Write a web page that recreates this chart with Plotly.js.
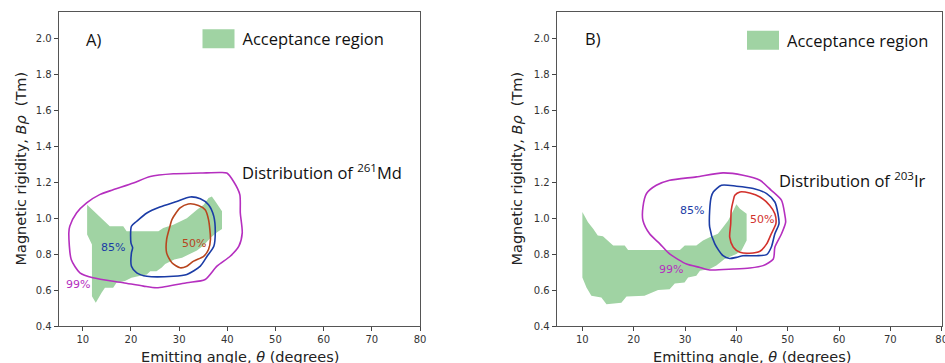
<!DOCTYPE html>
<html>
<head>
<meta charset="utf-8">
<script src="https://cdn.plot.ly/plotly-3.0.1.min.js"></script>
<style>html,body{margin:0;padding:0;background:#fff;}#chart{width:945px;height:363px;}</style>
</head>
<body>
<div id="chart"></div>
<script>
// ---------- Panel A data (261Md) ----------
const accA_x = [10.9,15.6,18.4,19.1,25.7,26.7,28.8,31.6,33.7,35.1,36.1,36.8,37.5,38.5,38.9,38.9,37.8,36.5,35.1,33.7,32.3,30.6,29.0,27.1,26.4,25.3,24.0,23.3,21.5,20.1,18.75,17.0,16.3,14.6,13.9,12.7,11.9,11.9,10.9];
const accA_y = [1.075,0.955,0.955,0.927,0.927,0.946,0.964,1.0,1.047,1.075,1.112,1.121,1.094,1.057,1.038,0.94,0.92,0.89,0.85,0.82,0.80,0.78,0.77,0.745,0.725,0.705,0.705,0.687,0.677,0.668,0.65,0.641,0.613,0.613,0.585,0.53,0.566,0.853,0.909];

const c99A_x = [39.9,41.3,42.6,42.7,43.1,42.4,40.6,37.85,35.4,31.6,25.35,22.6,18.4,12.1,9.4,7.6,7.1,7.3,8.7,10.8,13.5,16.3,20.5,24.0,28.8,34.4,38.5,39.9];
const c99A_y = [1.251,1.204,1.131,1.029,0.918,0.844,0.788,0.733,0.659,0.641,0.613,0.622,0.641,0.668,0.696,0.77,0.918,0.955,1.029,1.085,1.131,1.158,1.196,1.232,1.247,1.251,1.254,1.251];

const c85A_x = [20.1,21.2,23.3,26.0,29.5,32.3,34.4,36.1,37.2,37.5,37.2,35.8,34.4,31.6,28.8,23.3,21.2,20.1,20.1,20.35,20.0,20.1];
const c85A_y = [0.955,0.983,1.029,1.062,1.093,1.118,1.108,1.075,1.010,0.918,0.844,0.788,0.733,0.687,0.677,0.677,0.696,0.733,0.807,0.835,0.862,0.955];

const c50A_x = [28.5,30.2,31.9,34.0,35.4,36.1,36.5,36.1,35.1,33.0,31.6,30.2,28.5,27.4,27.4,28.1,28.5];
const c50A_y = [0.992,1.057,1.079,1.071,1.047,0.992,0.881,0.826,0.788,0.761,0.733,0.724,0.752,0.807,0.881,0.955,0.992];

// ---------- Panel B data (203Ir) ----------
const accB_x = [10.0,11.1,12.1,13.0,14.0,16.0,18.25,18.9,29.0,29.95,32.2,33.5,34.8,36.4,37.4,38.4,39.4,40.0,40.7,42.0,42.0,41.0,40.0,37.7,36.1,34.8,32.9,32.2,30.6,29.9,28.0,27.0,24.75,22.1,18.6,17.6,14.7,13.7,11.75,10.8,10.0];
const accB_y = [1.034,0.978,0.941,0.903,0.9,0.848,0.848,0.823,0.823,0.848,0.848,0.876,0.894,0.913,0.95,0.987,1.043,1.077,1.053,1.025,0.876,0.82,0.80,0.773,0.736,0.717,0.708,0.68,0.67,0.642,0.637,0.605,0.60,0.568,0.564,0.53,0.521,0.558,0.568,0.614,0.67];

const c99B_x = [21.8,22.5,24.4,27.0,32.2,37.4,41.3,44.6,46.8,48.8,49.4,49.6,48.8,47.5,47.2,45.2,42.6,39.4,34.8,32.9,30.3,27.0,25.1,23.1,21.8,21.8];
const c99B_y = [1.062,1.137,1.183,1.211,1.23,1.252,1.239,1.211,1.155,1.099,1.025,0.978,0.913,0.838,0.773,0.736,0.723,0.717,0.712,0.726,0.745,0.801,0.857,0.913,0.987,1.062];

const c85B_x = [35.5,37.1,40.0,43.3,45.9,47.5,48.1,48.3,47.5,46.8,45.9,43.9,41.3,40.0,38.7,37.4,35.8,34.8,34.8,35.1,35.5];
const c85B_y = [1.146,1.183,1.178,1.165,1.137,1.09,1.025,0.969,0.913,0.838,0.797,0.791,0.791,0.782,0.776,0.791,0.857,0.95,1.043,1.118,1.146];

const c50B_x = [39.7,40.7,42.6,44.6,46.5,47.5,47.7,46.8,45.9,44.6,42.6,40.7,39.4,38.7,38.9,39.0,39.4,39.7];
const c50B_y = [1.127,1.146,1.14,1.118,1.071,1.025,0.969,0.913,0.857,0.816,0.805,0.81,0.838,0.894,0.969,1.043,1.099,1.127];

// ---------- ticks & labels ----------
const xTicks = [10,20,30,40,50,60,70,80];
const yTicks = [0.4,0.6,0.8,1.0,1.2,1.4,1.6,1.8,2.0];
const yTickText = ['0.4','0.6','0.8','1.0','1.2','1.4','1.6','1.8','2.0'];
const contourLabels = ['99%','85%','50%'];
const labelA_x = [9.0,16.3,33.0], labelA_y = [0.631,0.835,0.857];
const labelB_x = [27.2,31.4,44.9], labelB_y = [0.712,1.043,0.99];
const panelNames = ['A)','B)'];
const nuclides = ['Distribution of <sup>261</sup>Md','Distribution of <sup>203</sup>Ir'];
const legendLabel = 'Acceptance region';

const GREEN = 'rgb(160,211,163)';
const MAG = '#b52fbf', BLUE = '#1b3ca6', REDA = '#b8451e', REDB = '#d2312c';

function contour(x,y,color,xa,ya){
  return {x:x,y:y,xaxis:xa,yaxis:ya,mode:'lines',line:{color:color,width:1.6,shape:'spline',smoothing:0.7},showlegend:false,hoverinfo:'skip'};
}
function area(x,y,xa,ya,leg){
  return {x:x,y:y,xaxis:xa,yaxis:ya,mode:'lines',fill:'toself',fillcolor:GREEN,line:{width:0,color:GREEN},name:legendLabel,showlegend:true,legend:leg,hoverinfo:'skip'};
}

const traces = [
  area(accA_x,accA_y,'x','y','legend'),
  contour(c99A_x,c99A_y,MAG,'x','y'),
  contour(c85A_x,c85A_y,BLUE,'x','y'),
  contour(c50A_x,c50A_y,REDA,'x','y'),
  area(accB_x,accB_y,'x2','y2','legend2'),
  contour(c99B_x,c99B_y,MAG,'x2','y2'),
  contour(c85B_x,c85B_y,BLUE,'x2','y2'),
  contour(c50B_x,c50B_y,REDB,'x2','y2')
];

const W=945,H=363;
const axisCommon = {showline:true,mirror:true,linecolor:'#555',linewidth:1,ticks:'outside',ticklen:4,tickcolor:'#444',
  showgrid:false,zeroline:false,ticklabeloverflow:'allow',tickfont:{family:'DejaVu Sans',size:10,color:'#333'}};
const ydom=[1-326/H,1-11.5/H];
const legFont = {family:'Open Sans',size:16.5,color:'#111'};
const layout = {
  width:W,height:H,margin:{l:0,r:0,t:0,b:0},paper_bgcolor:'#fff',plot_bgcolor:'#fff',
  xaxis:Object.assign({},axisCommon,{domain:[58.7/W,420/W],range:[5,80],tickvals:xTicks,anchor:'y'}),
  yaxis:Object.assign({},axisCommon,{domain:ydom,range:[0.4,2.15],tickvals:yTicks,ticktext:yTickText,anchor:'x'}),
  xaxis2:Object.assign({},axisCommon,{domain:[556.7/W,941.7/W],range:[5,80],tickvals:xTicks,anchor:'y2'}),
  yaxis2:Object.assign({},axisCommon,{domain:ydom,range:[0.4,2.15],tickvals:yTicks,ticktext:yTickText,anchor:'x2'}),
  legend:{x:202.5/W,y:1-39/H,xanchor:'left',yanchor:'middle',bgcolor:'rgba(0,0,0,0)',font:legFont,borderwidth:0},
  legend2:{x:747/W,y:1-40.5/H,xanchor:'left',yanchor:'middle',bgcolor:'rgba(0,0,0,0)',font:legFont,borderwidth:0},
  annotations:[],
  showlegend:true
};
const ann = layout.annotations;
const labColorsA=[MAG,BLUE,REDA], labColorsB=[MAG,BLUE,REDB];
for(let i=0;i<3;i++){
  ann.push({x:labelA_x[i],y:labelA_y[i],xref:'x',yref:'y',text:contourLabels[i],showarrow:false,font:{family:'DejaVu Sans',size:11,color:labColorsA[i]}});
  ann.push({x:labelB_x[i],y:labelB_y[i],xref:'x2',yref:'y2',text:contourLabels[i],showarrow:false,font:{family:'DejaVu Sans',size:11,color:labColorsB[i]}});
}
const txtFont = {family:'Open Sans',size:16.5,color:'#111'};
ann.push({x:10.2,y:1.996,xref:'x',yref:'y',xanchor:'left',yanchor:'middle',text:panelNames[0],showarrow:false,font:txtFont});
ann.push({x:10.1,y:2.0,xref:'x2',yref:'y2',xanchor:'left',yanchor:'middle',text:panelNames[1],showarrow:false,font:txtFont});
ann.push({x:42.7,y:1.257,xref:'x',yref:'y',xanchor:'left',yanchor:'middle',text:nuclides[0],showarrow:false,font:txtFont});
ann.push({x:47.95,y:1.211,xref:'x2',yref:'y2',xanchor:'left',yanchor:'middle',text:nuclides[1],showarrow:false,font:txtFont});
// axis titles
const yTitle = 'Magnetic rigidity, <i>Bρ</i>\u00a0\u00a0(Tm)';
const xTitle = 'Emitting angle, <i>θ</i> (degrees)';
const titleFont = {family:'DejaVu Sans',size:14.5,color:'#222'};
ann.push({x:20.5/W,y:1-169/H,xref:'paper',yref:'paper',xanchor:'center',yanchor:'middle',text:yTitle,textangle:-90,showarrow:false,font:titleFont});
ann.push({x:516.5/W,y:1-169/H,xref:'paper',yref:'paper',xanchor:'center',yanchor:'middle',text:yTitle,textangle:-90,showarrow:false,font:titleFont});
ann.push({x:239.5/W,y:1-357/H,xref:'paper',yref:'paper',xanchor:'center',yanchor:'middle',text:xTitle,showarrow:false,font:titleFont});
ann.push({x:752/W,y:1-357/H,xref:'paper',yref:'paper',xanchor:'center',yanchor:'middle',text:xTitle,showarrow:false,font:titleFont});

Plotly.newPlot('chart',traces,layout,{staticPlot:true,displayModeBar:false}).then(function(gd){
  // enlarge the legend patch to match the reference's filled rectangle
  gd.querySelectorAll('.legendfill path').forEach(function(p){ p.setAttribute('d','M-2,-9.5h34v19h-34z'); });
});
</script>
</body>
</html>
